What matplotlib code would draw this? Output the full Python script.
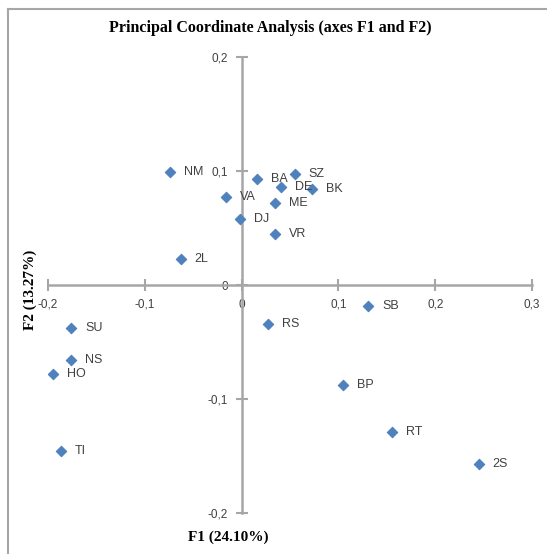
import matplotlib
matplotlib.use("Agg")
import matplotlib.pyplot as plt
from matplotlib.lines import Line2D

# PCoA scores
labels = ["NM", "BA", "SZ", "DE", "BK", "VA", "ME", "DJ", "VR", "2L",
          "SU", "NS", "HO", "TI", "RS", "SB", "BP", "RT", "2S"]
f1 = [-0.074, 0.016, 0.055, 0.041, 0.073, -0.016, 0.035, -0.002, 0.035, -0.063,
      -0.176, -0.176, -0.195, -0.187, 0.027, 0.131, 0.105, 0.155, 0.245]
f2 = [0.099, 0.093, 0.097, 0.086, 0.084, 0.077, 0.072, 0.058, 0.045, 0.023,
      -0.038, -0.066, -0.078, -0.146, -0.034, -0.018, -0.088, -0.129, -0.157]

xticks = [-0.2, -0.1, 0, 0.1, 0.2, 0.3]
yticks = [-0.2, -0.1, 0, 0.1, 0.2]
title = "Principal Coordinate Analysis (axes F1 and F2)"
xlabel = "F1 (24.10%)"
ylabel = "F2 (13.27%)"

def fmt(v):
    return "0" if v == 0 else ("%g" % v).replace(".", ",")

fig = plt.figure(figsize=(5.47, 5.54), dpi=100)
ax = fig.add_axes([48/547, 41/554, 484/547, 456/554])

ax.scatter(f1, f2, marker="D", s=28, color="#4F81BD", edgecolors="#4F81BD",
           linewidths=0.8, zorder=3)
for x, y, t in zip(f1, f2, labels):
    ax.annotate(t, (x, y), xytext=(10, 0), textcoords="offset points",
                va="center", ha="left", fontsize=9, color="#404040",
                family="Liberation Sans")

ax.set_xlim(-0.2, 0.3)
ax.set_ylim(-0.2, 0.2)
ax.spines["left"].set_position(("data", 0))
ax.spines["bottom"].set_position(("data", 0))
ax.spines["top"].set_visible(False)
ax.spines["right"].set_visible(False)
for s in ("left", "bottom"):
    ax.spines[s].set_color("#A6A6A6")
    ax.spines[s].set_linewidth(1.8)
ax.set_xticks(xticks)
ax.set_yticks(yticks)
ax.set_xticklabels([fmt(v) for v in xticks])
ax.set_yticklabels([fmt(v) for v in yticks])
ax.tick_params(direction="inout", length=8, width=1.5, color="#A6A6A6",
               labelsize=8.5, labelcolor="#404040", pad=6)
for lab in ax.get_xticklabels() + ax.get_yticklabels():
    lab.set_family("Liberation Sans")
ax.patch.set_visible(False)

fig.text(270/547, 1 - 28/554, title, ha="center", va="center",
         fontsize=11.5, fontweight="bold", family="Liberation Serif")
fig.text(228/547, 1 - 537/554, xlabel, ha="center", va="center",
         fontsize=11, fontweight="bold", family="Liberation Serif")
fig.text(30/547, 1 - 290/554, ylabel, ha="center", va="center", rotation=90,
         fontsize=11, fontweight="bold", family="Liberation Serif")

# chart area border (left and top edges visible)
fig.add_artist(Line2D([8/547, 8/547], [0, 1 - 9/554], color="#A6A6A6", lw=1.5))
fig.add_artist(Line2D([8/547, 1], [1 - 9/554, 1 - 9/554], color="#A6A6A6", lw=1.5))

fig.savefig("out.png", dpi=100)
